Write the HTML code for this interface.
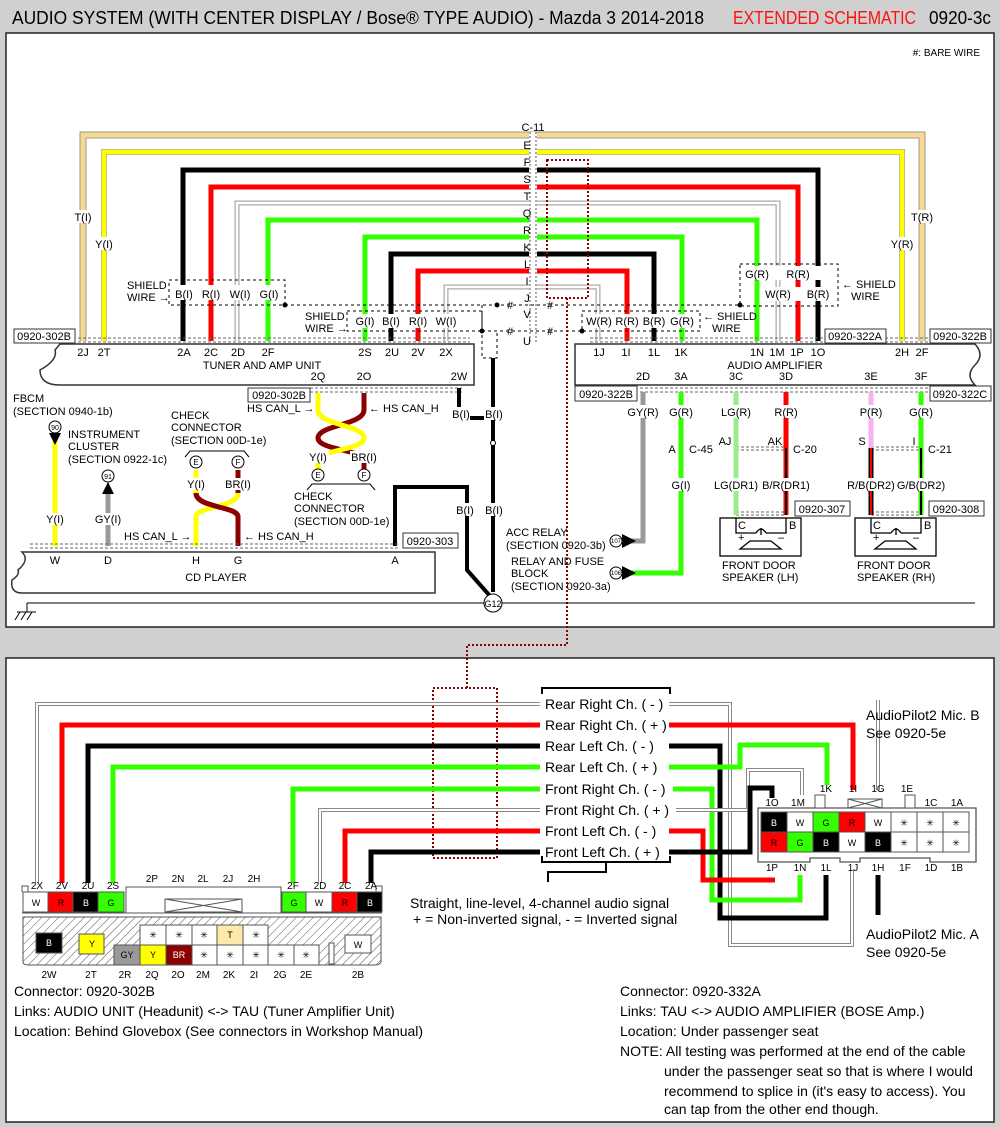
<!DOCTYPE html>
<html><head><meta charset="utf-8"><style>
html,body{margin:0;padding:0;background:#d0d0d0;}
svg{display:block;font-family:"Liberation Sans",Arial,sans-serif;}
.t{font-size:11px;fill:#000;}
.c{text-anchor:middle;}
.lb{font-size:14px;font-family:"Liberation Sans",sans-serif;}
</style></head><body>
<svg width="1000" height="1127" viewBox="0 0 1000 1127" xmlns="http://www.w3.org/2000/svg">
<defs>
<pattern id="hatch" width="6" height="6" patternUnits="userSpaceOnUse" patternTransform="rotate(45)">
<rect width="6" height="6" fill="#fff"/><line x1="0" y1="0" x2="0" y2="6" stroke="#555" stroke-width="1"/></pattern>
</defs>
<rect width="1000" height="1127" fill="#d0d0d0"/>
<!-- title -->
<text x="12" y="24" font-size="18" font-family="'Liberation Sans Narrow','Liberation Sans',sans-serif" textLength="692" lengthAdjust="spacingAndGlyphs">AUDIO SYSTEM (WITH CENTER DISPLAY / Bose® TYPE AUDIO) - Mazda 3 2014-2018</text>
<text x="733" y="24" font-size="18" fill="#ff1010" font-family="'Liberation Sans Narrow','Liberation Sans',sans-serif" textLength="183" lengthAdjust="spacingAndGlyphs">EXTENDED SCHEMATIC</text>
<text x="929" y="24" font-size="18" font-family="'Liberation Sans Narrow','Liberation Sans',sans-serif" textLength="62" lengthAdjust="spacingAndGlyphs">0920-3c</text>
<!-- panels -->
<rect x="6" y="33" width="988" height="594" fill="#fff" stroke="#222" stroke-width="1.5"/>
<rect x="6" y="658" width="988" height="464" fill="#fff" stroke="#222" stroke-width="1.5"/>
<text x="980" y="56" font-size="10" text-anchor="end">#: BARE WIRE</text>

<!-- top wires -->
<g fill="none" stroke-linejoin="miter">
<path d="M83,341V135H922V341" stroke="#999" stroke-width="7"/><path d="M83,341V135H922V341" stroke="#f7d98f" stroke-width="5"/>
<path d="M104,341V152H902V341" stroke="#aaa" stroke-width="6"/><path d="M104,341V152H902V341" stroke="#ffff00" stroke-width="4.5"/>
<path d="M183,341V170H818V341" stroke="#000" stroke-width="5"/>
<path d="M211,341V187H798V341" stroke="#ff0000" stroke-width="5"/>
<path d="M237,341V203H778V341" stroke="#aaa" stroke-width="5"/><path d="M237,341V203H778V341" stroke="#fff" stroke-width="2.5"/>
<path d="M268,341V220H757V341" stroke="#33ff00" stroke-width="5"/>
<path d="M365,341V237H682V341" stroke="#33ff00" stroke-width="5"/>
<path d="M391,341V254H654V341" stroke="#000" stroke-width="5"/>
<path d="M418,341V271H627V341" stroke="#ff0000" stroke-width="5"/>
<path d="M446,341V287H598V341" stroke="#aaa" stroke-width="5"/><path d="M446,341V287H598V341" stroke="#fff" stroke-width="2.5"/>
</g>
<!-- C-11 column -->
<rect x="529" y="132" width="8" height="212" fill="#fff"/>
<line x1="530" y1="132" x2="530" y2="344" stroke="#555" stroke-dasharray="2,2"/>
<line x1="536" y1="132" x2="536" y2="344" stroke="#555" stroke-dasharray="2,2"/>
<g class="t c" font-size="11">
<text x="533" y="131">C-11</text><text x="527" y="149">E</text><text x="527" y="166">F</text><text x="527" y="183">S</text><text x="527" y="200">T</text><text x="527" y="217">Q</text><text x="527" y="234">R</text><text x="527" y="251">K</text><text x="527" y="268">L</text><text x="527" y="285">I</text><text x="527" y="302">J</text><text x="527" y="318">V</text><text x="527" y="345">U</text>
</g>
<g stroke="#000" stroke-dasharray="3,3" fill="none" stroke-width="1">
<line x1="285" y1="305" x2="740" y2="305"/>
<line x1="482" y1="331" x2="582" y2="331"/>
<rect x="169" y="280" width="116" height="25"/>
<rect x="347" y="311" width="135" height="20"/>
<rect x="582" y="311" width="118" height="20"/>
<rect x="740" y="264" width="98" height="42"/>
<path d="M482,305V358H497V331"/>
</g>
<g fill="#000"><circle cx="285" cy="305" r="2.5"/><circle cx="482" cy="331" r="2.5"/><circle cx="740" cy="305" r="2.5"/><circle cx="582" cy="331" r="2.5"/><circle cx="497" cy="305" r="2.5"/></g>
<g class="t c" font-size="10"><text x="510" y="309">#</text><text x="550" y="309">#</text><text x="510" y="335">#</text><text x="550" y="335">#</text></g>
<g stroke="#8b0000" stroke-width="2" stroke-dasharray="2,2" fill="none">
<rect x="547" y="160" width="41" height="138"/>
<path d="M567,298V645H467V688"/>
<rect x="433" y="688" width="64" height="170"/>
</g>
<g class="t c">
<g fill="#fff" stroke="none"><rect x="70" y="210" width="26" height="13"/><rect x="92" y="237" width="26" height="13"/><rect x="908" y="210" width="28" height="13"/><rect x="888" y="237" width="29" height="13"/>
<rect x="172" y="285" width="110" height="15"/><rect x="350" y="314" width="128" height="14"/><rect x="585" y="314" width="112" height="14"/><rect x="743" y="266" width="92" height="14"/><rect x="763" y="287" width="70" height="14"/></g>
<text x="83" y="221">T(I)</text><text x="104" y="248">Y(I)</text><text x="922" y="221">T(R)</text><text x="902" y="248">Y(R)</text>
<text x="184" y="298">B(I)</text><text x="211" y="298">R(I)</text><text x="240" y="298">W(I)</text><text x="269" y="298">G(I)</text>
<text x="365" y="325">G(I)</text><text x="391" y="325">B(I)</text><text x="418" y="325">R(I)</text><text x="446" y="325">W(I)</text>
<text x="599" y="325">W(R)</text><text x="627" y="325">R(R)</text><text x="654" y="325">B(R)</text><text x="682" y="325">G(R)</text>
<text x="757" y="278">G(R)</text><text x="798" y="278">R(R)</text><text x="778" y="298">W(R)</text><text x="818" y="298">B(R)</text>
</g>
<g class="t"><text x="127" y="289">SHIELD</text><text x="127" y="301">WIRE →</text>
<text x="305" y="320">SHIELD</text><text x="305" y="332">WIRE →</text>
<text x="703" y="320">← SHIELD</text><text x="712" y="332">WIRE</text>
<text x="842" y="288">← SHIELD</text><text x="851" y="300">WIRE</text></g>
<g stroke="#666" stroke-dasharray="3,2" stroke-width="1"><line x1="78" y1="338" x2="470" y2="338"/><line x1="78" y1="342" x2="470" y2="342"/><line x1="590" y1="338" x2="940" y2="338"/><line x1="590" y1="342" x2="940" y2="342"/></g>
<path d="M60,344H474V385H60Q40,385 40,370Q58,360 55,350Z" fill="#fff" stroke="#333" stroke-width="1.5"/>
<path d="M575,344H975Q985,355 975,365Q965,375 975,385H575Z" fill="#fff" stroke="#333" stroke-width="1.5"/>
<g stroke="#666" stroke-dasharray="3,2"><line x1="310" y1="388" x2="462" y2="388"/><line x1="310" y1="392" x2="462" y2="392"/></g>
<g fill="#fff" stroke="#333"><rect x="14" y="329" width="61" height="14"/><rect x="825" y="329" width="61" height="14"/><rect x="930" y="329" width="61" height="14"/>
<rect x="248" y="388" width="62" height="14"/><rect x="575" y="386" width="62" height="15"/><rect x="930" y="386" width="61" height="15"/><rect x="403" y="533" width="55" height="15"/><rect x="795" y="501" width="55" height="15"/><rect x="929" y="501" width="55" height="15"/></g>
<g class="t c"><text x="44" y="340">0920-302B</text><text x="855" y="340">0920-322A</text><text x="960" y="340">0920-322B</text>
<text x="279" y="399">0920-302B</text><text x="606" y="398">0920-322B</text><text x="960" y="398">0920-322C</text><text x="430" y="545">0920-303</text><text x="822" y="513">0920-307</text><text x="956" y="513">0920-308</text></g>
<g class="t c">
<text x="83" y="356">2J</text><text x="104" y="356">2T</text><text x="184" y="356">2A</text><text x="211" y="356">2C</text><text x="238" y="356">2D</text><text x="268" y="356">2F</text><text x="365" y="356">2S</text><text x="392" y="356">2U</text><text x="418" y="356">2V</text><text x="446" y="356">2X</text>
<text x="262" y="369">TUNER AND AMP UNIT</text>
<text x="318" y="380">2Q</text><text x="364" y="380">2O</text><text x="459" y="380">2W</text>
<text x="599" y="356">1J</text><text x="626" y="356">1I</text><text x="654" y="356">1L</text><text x="681" y="356">1K</text><text x="757" y="356">1N</text><text x="777" y="356">1M</text><text x="797" y="356">1P</text><text x="818" y="356">1O</text><text x="902" y="356">2H</text><text x="922" y="356">2F</text>
<text x="775" y="369">AUDIO AMPLIFIER</text>
<text x="643" y="380">2D</text><text x="681" y="380">3A</text><text x="736" y="380">3C</text><text x="786" y="380">3D</text><text x="871" y="380">3E</text><text x="921" y="380">3F</text>
</g>
<g fill="none" stroke="#000" stroke-width="4">
<path d="M459,388V418H493"/>
<path d="M493,358V592"/>
<path d="M395,546V487H467V570L490,596"/>
</g>
<g fill="#fff"><rect x="450" y="407" width="20" height="13"/><rect x="484" y="407" width="20" height="13"/><rect x="455" y="503" width="20" height="13"/><rect x="484" y="503" width="20" height="13"/></g>
<g class="t c"><text x="461" y="418">B(I)</text><text x="494" y="418">B(I)</text><text x="465" y="514">B(I)</text><text x="494" y="514">B(I)</text></g>
<circle cx="493" cy="443" r="2.5" fill="#fff" stroke="#000"/>
<line x1="27" y1="603" x2="975" y2="603" stroke="#000"/>
<circle cx="493" cy="603" r="9" fill="#fff" stroke="#000"/><text x="493" y="607" font-size="9" text-anchor="middle">G12</text>
<path d="M27,603V612M17,612H36M15,620L20,612M21,620L26,612M27,620L32,612" stroke="#000" fill="none"/>
<g fill="none" stroke-width="5">
<path d="M364,393V410C364,425 318,425 318,438C318,450 364,450 364,460V470" stroke="#8b0000"/>
<path d="M318,393V410C318,425 364,425 364,438" stroke="#ffff00"/>
<path d="M364,438C364,450 318,450 318,460V470" stroke="#ffff00"/>
</g>
<g class="t"><text x="247" y="412">HS CAN_L →</text><text x="369" y="412">← HS CAN_H</text></g>
<g fill="#fff"><rect x="307" y="451" width="22" height="12"/><rect x="350" y="451" width="28" height="12"/></g>
<g class="t c"><text x="318" y="461">Y(I)</text><text x="364" y="461">BR(I)</text></g>
<g fill="#fff" stroke="#000"><circle cx="318" cy="475" r="6"/><circle cx="364" cy="475" r="6"/><circle cx="196" cy="462" r="6"/><circle cx="238" cy="462" r="6"/></g>
<g font-size="8" text-anchor="middle"><text x="318" y="478">E</text><text x="364" y="478">F</text><text x="196" y="465">E</text><text x="238" y="465">F</text></g>
<path d="M307,490L312,484H370L375,490M185,457L190,451H244L249,457" fill="none" stroke="#000"/>
<g class="t"><text x="294" y="500">CHECK</text><text x="294" y="512">CONNECTOR</text><text x="294" y="525">(SECTION 00D-1e)</text>
<text x="171" y="419">CHECK</text><text x="171" y="431">CONNECTOR</text><text x="171" y="444">(SECTION 00D-1e)</text></g>
<g fill="none" stroke-width="5">
<path d="M196,493C196,508 238,506 238,517V546" stroke="#8b0000"/>
<path d="M238,493C238,508 196,506 196,517V546" stroke="#ffff00"/>
<path d="M196,493C196,508 238,506 238,517" stroke="#8b0000"/>
<path d="M238,493V470" stroke="#8b0000"/><path d="M196,493V470" stroke="#ffff00"/>
</g>
<g fill="#fff"><rect x="184" y="478" width="24" height="12"/><rect x="224" y="478" width="28" height="12"/></g>
<g class="t c"><text x="196" y="488">Y(I)</text><text x="238" y="488">BR(I)</text></g>
<g class="t"><text x="124" y="540">HS CAN_L →</text><text x="244" y="540">← HS CAN_H</text></g>
<g class="t"><text x="13" y="402">FBCM</text><text x="13" y="415">(SECTION 0940-1b)</text>
<text x="68" y="438">INSTRUMENT</text><text x="68" y="450">CLUSTER</text><text x="68" y="463">(SECTION 0922-1c)</text></g>
<line x1="55" y1="440" x2="55" y2="546" stroke="#ffff00" stroke-width="5"/>
<line x1="108" y1="490" x2="108" y2="546" stroke="#999" stroke-width="5"/>
<circle cx="55" cy="427" r="6" fill="#fff" stroke="#000"/><text x="55" y="430" font-size="7" text-anchor="middle">90</text>
<path d="M49,433H61L55,445Z"/>
<circle cx="108" cy="476" r="6" fill="#fff" stroke="#000"/><text x="108" y="479" font-size="7" text-anchor="middle">91</text>
<path d="M102,494H114L108,482Z"/>
<g fill="#fff"><rect x="44" y="513" width="22" height="12"/><rect x="94" y="513" width="28" height="12"/></g>
<g class="t c"><text x="55" y="523">Y(I)</text><text x="108" y="523">GY(I)</text></g>
<g stroke="#666" stroke-dasharray="3,2"><line x1="30" y1="544" x2="400" y2="544"/><line x1="30" y1="548" x2="400" y2="548"/></g>
<path d="M22,552H435V593H22Q10,593 12,580Q20,575 18,570Q30,560 22,552Z" fill="#fff" stroke="#333" stroke-width="1.5"/>
<g class="t c"><text x="55" y="564">W</text><text x="108" y="564">D</text><text x="196" y="564">H</text><text x="238" y="564">G</text><text x="395" y="564">A</text><text x="216" y="581">CD PLAYER</text></g>
<g stroke="#666" stroke-dasharray="3,2"><line x1="640" y1="388" x2="930" y2="388"/><line x1="640" y1="392" x2="930" y2="392"/>
<line x1="736" y1="447" x2="786" y2="447"/><line x1="736" y1="450" x2="786" y2="450"/><line x1="871" y1="447" x2="921" y2="447"/><line x1="871" y1="450" x2="921" y2="450"/>
<line x1="736" y1="512" x2="786" y2="512"/><line x1="736" y1="515" x2="786" y2="515"/><line x1="871" y1="512" x2="921" y2="512"/><line x1="871" y1="515" x2="921" y2="515"/></g>
<g fill="none" stroke-width="5">
<path d="M643,392V541H630" stroke="#999"/>
<path d="M681,392V573H630" stroke="#33ff00"/>
<path d="M736,392V515" stroke="#99ee88"/>
<path d="M786,392V448" stroke="#ff0000"/><path d="M786,448V515" stroke="#ff0000"/><path d="M786,448V515" stroke="#000" stroke-width="2"/>
<path d="M871,392V448" stroke="#f7b0f0"/><path d="M871,448V515" stroke="#000"/><path d="M871,448V515" stroke="#ff0000" stroke-width="2"/>
<path d="M921,392V515" stroke="#33ff00"/><path d="M921,448V515" stroke="#000" stroke-width="2"/>
</g>
<path d="M622,534L636,541L622,548Z M622,566L636,573L622,580Z"/>
<g fill="#fff" stroke="#000"><circle cx="616" cy="541" r="6"/><circle cx="616" cy="573" r="6"/></g>
<g font-size="6" text-anchor="middle"><text x="616" y="543">107</text><text x="616" y="575">106</text></g>
<g fill="#fff"><rect x="627" y="405" width="32" height="13"/><rect x="667" y="405" width="28" height="13"/><rect x="720" y="405" width="32" height="13"/><rect x="772" y="405" width="28" height="13"/><rect x="857" y="405" width="28" height="13"/><rect x="907" y="405" width="28" height="13"/>
<rect x="668" y="478" width="26" height="13"/><rect x="712" y="478" width="48" height="13"/><rect x="762" y="478" width="48" height="13"/><rect x="846" y="478" width="50" height="13"/><rect x="898" y="478" width="48" height="13"/></g>
<g class="t c"><text x="643" y="416">GY(R)</text><text x="681" y="416">G(R)</text><text x="736" y="416">LG(R)</text><text x="786" y="416">R(R)</text><text x="871" y="416">P(R)</text><text x="921" y="416">G(R)</text>
<text x="681" y="489">G(I)</text><text x="736" y="489">LG(DR1)</text><text x="786" y="489">B/R(DR1)</text><text x="871" y="489">R/B(DR2)</text><text x="921" y="489">G/B(DR2)</text>
<text x="672" y="453">A</text><text x="725" y="445">AJ</text><text x="775" y="445">AK</text><text x="862" y="445">S</text><text x="914" y="445">I</text></g>
<g class="t"><text x="689" y="453">C-45</text><text x="793" y="453">C-20</text><text x="928" y="453">C-21</text>
<text x="506" y="536">ACC RELAY</text><text x="506" y="549">(SECTION 0920-3b)</text>
<text x="511" y="565">RELAY AND FUSE</text><text x="511" y="577">BLOCK</text><text x="511" y="590">(SECTION 0920-3a)</text>
<text x="722" y="569">FRONT DOOR</text><text x="722" y="581">SPEAKER (LH)</text><text x="857" y="569">FRONT DOOR</text><text x="857" y="581">SPEAKER (RH)</text></g>
<g fill="none" stroke="#000" stroke-width="1.3">
<rect x="720" y="518" width="81" height="38"/><rect x="855" y="518" width="81" height="38"/>
<path d="M736,518V533H756M766,533H786V518M756,533Q761,525 766,533M761,528V535M740,549L750,541H771L781,549Z"/>
<path d="M871,518V533H891M901,533H921V518M891,533Q896,525 901,533M896,528V535M875,549L885,541H906L916,549Z"/>
</g>
<g class="t"><text x="738" y="529">C</text><text x="789" y="529">B</text><text x="873" y="529">C</text><text x="924" y="529">B</text><text x="738" y="541">+</text><text x="778" y="541">–</text><text x="873" y="541">+</text><text x="913" y="541">–</text></g>

<!-- ============ BOTTOM PANEL ============ -->
<g fill="none">
<path d="M37,883V704H540" stroke="#888" stroke-width="4"/><path d="M37,883V704H540" stroke="#fff" stroke-width="2"/>
<path d="M62,883V725H540" stroke="#ff0000" stroke-width="5"/>
<path d="M88,883V746H540" stroke="#000" stroke-width="5"/>
<path d="M113,883V767H540" stroke="#33ff00" stroke-width="5"/>
<path d="M293,883V789H540" stroke="#33ff00" stroke-width="5"/>
<path d="M320,883V810H540" stroke="#888" stroke-width="4"/><path d="M320,883V810H540" stroke="#fff" stroke-width="2"/>
<path d="M345,883V831H540" stroke="#ff0000" stroke-width="5"/>
<path d="M371,883V852H540" stroke="#000" stroke-width="5"/>
<path d="M668,704H730V945H852V870" stroke="#888" stroke-width="4"/><path d="M668,704H730V945H852V870" stroke="#fff" stroke-width="2"/>
<path d="M668,725H853V790" stroke="#ff0000" stroke-width="5"/>
<path d="M660,746H720V918H826V875" stroke="#000" stroke-width="5"/>
<path d="M662,767H740V745H827V785" stroke="#33ff00" stroke-width="5"/>
<path d="M673,789H712V900H800V875" stroke="#33ff00" stroke-width="5"/>
<path d="M676,810H748V770H802V795" stroke="#888" stroke-width="4"/><path d="M676,810H748V770H802V795" stroke="#fff" stroke-width="2"/>
<path d="M665,831H703V880H775" stroke="#ff0000" stroke-width="5"/>
<path d="M667,852H750V788H772V798" stroke="#000" stroke-width="5"/>
<path d="M878,700V790" stroke="#888" stroke-width="4"/><path d="M878,700V790" stroke="#fff" stroke-width="2"/>
<path d="M878,875V915" stroke="#000" stroke-width="5"/>
</g>
<rect x="541" y="692" width="128" height="170" fill="#fff"/>
<path d="M542,694V688H670V694M542,856V862H670V856M606,862V872H548V882" fill="none" stroke="#000" stroke-width="2"/>
<g class="lb" font-size="13.5"><text x="545" y="709">Rear Right Ch. ( - )</text><text x="545" y="730">Rear Right Ch. ( + )</text><text x="545" y="751">Rear Left Ch. ( - )</text><text x="545" y="772">Rear Left Ch. ( + )</text><text x="545" y="794">Front Right Ch. ( - )</text><text x="545" y="815">Front Right Ch. ( + )</text><text x="545" y="836">Front Left Ch. ( - )</text><text x="545" y="857">Front Left Ch. ( + )</text>
<text x="410" y="908">Straight, line-level, 4-channel audio signal</text><text x="413" y="924">+ = Non-inverted signal, - = Inverted signal</text>
<text x="866" y="720">AudioPilot2 Mic. B</text><text x="866" y="738">See 0920-5e</text><text x="866" y="939">AudioPilot2 Mic. A</text><text x="866" y="957">See 0920-5e</text>
<text x="14" y="996">Connector: 0920-302B</text><text x="14" y="1016">Links: AUDIO UNIT (Headunit) &lt;-&gt; TAU (Tuner Amplifier Unit)</text><text x="14" y="1036">Location:  Behind Glovebox (See connectors in Workshop Manual)</text>
<text x="620" y="996">Connector: 0920-332A</text><text x="620" y="1016">Links: TAU &lt;-&gt; AUDIO AMPLIFIER (BOSE Amp.)</text><text x="620" y="1036">Location: Under passenger seat</text><text x="620" y="1056">NOTE: All testing was performed at the end of the cable</text><text x="664" y="1076">under the passenger seat so that is where I would</text><text x="664" y="1096">recommend to splice in (it's easy to access). You</text><text x="664" y="1114">can tap from the other end though.</text></g>
<path d="M758,808H976V862H930V858H860V862H840V858H810V862H758Z" fill="#fff" stroke="#555" stroke-width="1.3"/>
<rect x="815" y="795" width="10" height="13" fill="#fff" stroke="#555"/><rect x="905" y="795" width="10" height="13" fill="#fff" stroke="#555"/>
<path d="M848,799H882V808H848ZM848,799L882,808M882,799L848,808" fill="#fff" stroke="#555"/>
<g stroke="#555" stroke-width="1">
<rect x="761" y="812" width="26" height="20" fill="#000"/><rect x="787" y="812" width="26" height="20" fill="#fff"/><rect x="813" y="812" width="26" height="20" fill="#33ff00"/><rect x="839" y="812" width="26" height="20" fill="#ff0000"/><rect x="865" y="812" width="26" height="20" fill="#fff"/><rect x="891" y="812" width="26" height="20" fill="#fff"/><rect x="917" y="812" width="26" height="20" fill="#fff"/><rect x="943" y="812" width="26" height="20" fill="#fff"/>
<rect x="761" y="832" width="26" height="20" fill="#ff0000"/><rect x="787" y="832" width="26" height="20" fill="#33ff00"/><rect x="813" y="832" width="26" height="20" fill="#000"/><rect x="839" y="832" width="26" height="20" fill="#fff"/><rect x="865" y="832" width="26" height="20" fill="#000"/><rect x="891" y="832" width="26" height="20" fill="#fff"/><rect x="917" y="832" width="26" height="20" fill="#fff"/><rect x="943" y="832" width="26" height="20" fill="#fff"/>
</g>
<g font-size="9" text-anchor="middle"><text x="774" y="826" fill="#fff">B</text><text x="800" y="826">W</text><text x="826" y="826">G</text><text x="852" y="826">R</text><text x="878" y="826">W</text><text x="904" y="826">✳</text><text x="930" y="826">✳</text><text x="956" y="826">✳</text>
<text x="774" y="846">R</text><text x="800" y="846">G</text><text x="826" y="846" fill="#fff">B</text><text x="852" y="846">W</text><text x="878" y="846" fill="#fff">B</text><text x="904" y="846">✳</text><text x="930" y="846">✳</text><text x="956" y="846">✳</text></g>
<g font-size="10" text-anchor="middle"><text x="826" y="792">1K</text><text x="853" y="792">1I</text><text x="878" y="792">1G</text><text x="907" y="792">1E</text>
<text x="772" y="806">1O</text><text x="798" y="806">1M</text><text x="931" y="806">1C</text><text x="957" y="806">1A</text>
<text x="772" y="871">1P</text><text x="800" y="871">1N</text><text x="826" y="871">1L</text><text x="853" y="871">1J</text><text x="878" y="871">1H</text><text x="905" y="871">1F</text><text x="931" y="871">1D</text><text x="957" y="871">1B</text></g>
<path d="M22,892V886H28V892M376,892V886H382V892" fill="#fff" stroke="#555"/>
<rect x="126" y="887" width="155" height="26" fill="#fff" stroke="#555"/>
<path d="M165,899H242V912H165ZM165,899L242,912M242,899L165,912" fill="none" stroke="#555"/>
<g stroke="#555"><rect x="23" y="892" width="25" height="20" fill="#fff"/><rect x="48" y="892" width="25" height="20" fill="#ff0000"/><rect x="73" y="892" width="25" height="20" fill="#000"/><rect x="98" y="892" width="26" height="20" fill="#33ff00"/>
<rect x="282" y="892" width="24" height="20" fill="#33ff00"/><rect x="306" y="892" width="26" height="20" fill="#fff"/><rect x="332" y="892" width="25" height="20" fill="#ff0000"/><rect x="357" y="892" width="25" height="20" fill="#000"/></g>
<line x1="22" y1="913" x2="382" y2="913" stroke="#555"/>
<path d="M23,917H381V962Q380,965 375,965H28Q23,965 23,962Z" fill="url(#hatch)" stroke="#555"/>
<g stroke="#555"><rect x="36" y="933" width="26" height="20" fill="#000"/><rect x="79" y="934" width="25" height="20" fill="#ffff00"/>
<rect x="140" y="925" width="26" height="20" fill="#fff"/><rect x="166" y="925" width="26" height="20" fill="#fff"/><rect x="192" y="925" width="25" height="20" fill="#fff"/><rect x="217" y="925" width="26" height="20" fill="#ffe9a8"/><rect x="243" y="925" width="25" height="20" fill="#fff"/>
<rect x="114" y="945" width="26" height="20" fill="#999"/><rect x="140" y="945" width="26" height="20" fill="#ffff00"/><rect x="166" y="945" width="26" height="20" fill="#8b0000"/><rect x="192" y="945" width="25" height="20" fill="#fff"/><rect x="217" y="945" width="26" height="20" fill="#fff"/><rect x="243" y="945" width="25" height="20" fill="#fff"/><rect x="268" y="945" width="26" height="20" fill="#fff"/><rect x="294" y="945" width="25" height="20" fill="#fff"/>
<rect x="329" y="943" width="5" height="21" fill="#fff"/><rect x="345" y="935" width="26" height="18" fill="#fff"/></g>
<g font-size="9" text-anchor="middle"><text x="36" y="906">W</text><text x="61" y="906">R</text><text x="86" y="906" fill="#fff">B</text><text x="111" y="906">G</text><text x="294" y="906">G</text><text x="319" y="906">W</text><text x="345" y="906">R</text><text x="370" y="906" fill="#fff">B</text>
<text x="49" y="946" fill="#fff">B</text><text x="92" y="947">Y</text><text x="153" y="938">✳</text><text x="179" y="938">✳</text><text x="204" y="938">✳</text><text x="230" y="938">T</text><text x="256" y="938">✳</text>
<text x="127" y="958">GY</text><text x="153" y="958">Y</text><text x="179" y="958" fill="#fff">BR</text><text x="204" y="958">✳</text><text x="230" y="958">✳</text><text x="256" y="958">✳</text><text x="281" y="958">✳</text><text x="306" y="958">✳</text><text x="358" y="948">W</text></g>
<g font-size="10" text-anchor="middle"><text x="37" y="889">2X</text><text x="62" y="889">2V</text><text x="88" y="889">2U</text><text x="113" y="889">2S</text><text x="152" y="882">2P</text><text x="178" y="882">2N</text><text x="203" y="882">2L</text><text x="228" y="882">2J</text><text x="254" y="882">2H</text><text x="293" y="889">2F</text><text x="320" y="889">2D</text><text x="345" y="889">2C</text><text x="371" y="889">2A</text>
<text x="49" y="978">2W</text><text x="91" y="978">2T</text><text x="125" y="978">2R</text><text x="152" y="978">2Q</text><text x="178" y="978">2O</text><text x="203" y="978">2M</text><text x="229" y="978">2K</text><text x="254" y="978">2I</text><text x="280" y="978">2G</text><text x="306" y="978">2E</text><text x="358" y="978">2B</text></g>
</svg>
</body></html>
